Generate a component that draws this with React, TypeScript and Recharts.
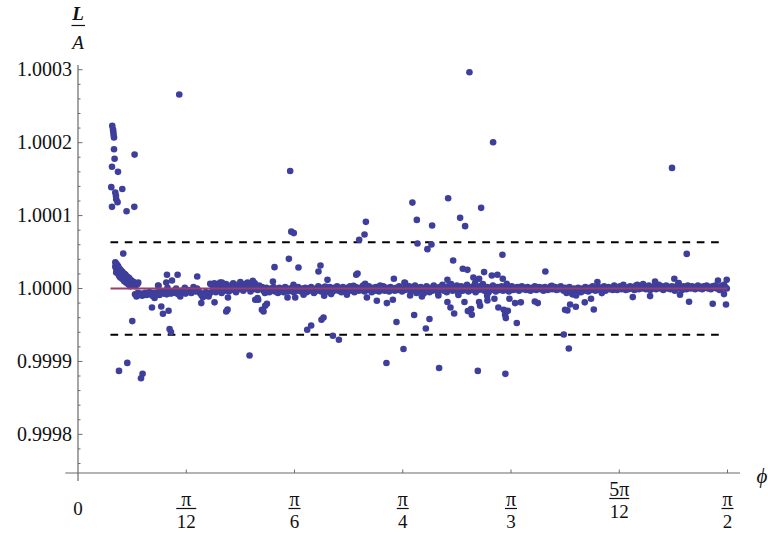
import React from 'react';
import { ScatterChart, Scatter, XAxis, YAxis, ReferenceLine } from 'recharts';

// phi in degrees, deviation of L/A from 1 in parts per million (ppm)
type Pt = [number, number];

const transientHigh: Pt[] = [
  [4.75, 223], [4.85, 218], [4.89, 215], [4.93, 211], [4.99, 207], [4.99, 191],
  [5.07, 178], [4.71, 167], [5.54, 160], [4.61, 139], [5.17, 131.5], [5.26, 127],
  [5.30, 122.5], [5.48, 118.4], [4.71, 112], [6.14, 136.5], [7.84, 183.6],
  [7.80, 112], [6.73, 106], [14.03, 266],
];

const transientLow: Pt[] = [
  [5.68, -113], [6.83, -102], [8.95, -117], [8.73, -123], [7.52, -44.7], [6.27, 48],
];

const transientWedge: Pt[] = [
  [5.17, 36], [5.17, 30], [5.30, 34], [5.30, 27], [5.30, 22], [5.44, 32], [5.44, 25],
  [5.58, 30], [5.58, 28], [5.58, 20], [5.72, 27], [5.72, 22], [5.72, 17], [5.86, 26],
  [5.86, 20], [5.86, 15], [6.00, 24], [6.00, 18], [6.14, 23], [6.14, 19], [6.14, 13],
  [6.27, 21], [6.27, 16], [6.41, 20], [6.41, 14], [6.41, 10], [6.55, 19], [6.55, 15],
  [6.69, 17], [6.69, 12], [6.69, 8], [6.83, 16], [6.83, 13], [6.97, 15], [6.97, 11],
  [6.97, 6], [7.11, 14], [7.11, 9], [7.24, 12], [7.24, 8], [7.24, 3], [7.38, 11],
  [7.38, 6], [7.52, 10], [7.52, 7], [7.66, 9], [7.66, 5], [7.80, 8], [7.80, 4],
  [7.94, 7], [7.94, 3], [8.07, 7], [8.21, 6], [8.35, 8],
];

const bandA: Pt[] = [
  [7.9, -8], [8.1, -11], [8.3, -6], [8.5, -9], [8.7, -7], [8.9, -10], [9.1, -8], [9.3, -6],
  [9.5, -9], [9.7, -7], [9.9, -5], [10.1, -8], [10.3, -10], [10.5, -6], [10.7, -8], [10.9, -7],
  [11.1, -5], [11.3, -9], [11.5, -6], [11.7, -4], [11.9, -7], [12.1, -5], [12.3, -8], [12.5, -6],
  [12.7, -4], [12.9, -7], [13.1, -5], [13.3, -3], [13.5, -6], [13.7, -4], [13.9, -8], [14.1, -5],
  [14.3, -3], [14.5, -6], [14.7, -4], [14.9, -7], [15.1, -5], [15.3, -2], [15.5, -4], [15.7, -6],
  [15.9, -3], [16.1, -1], [16.3, -4], [16.5, 0], [16.7, -3], [16.9, -6], [17.1, -9], [17.3, -12],
  [17.5, -7], [17.7, -5], [17.9, -9], [18.1, -11], [18.3, -6],
  [11.1, 4], [12.4, 1], [13.6, 0], [14.8, 1], [16.0, 2],
];

const bandB: Pt[] = [
  [18.5, 5], [18.7, -2], [18.9, 7], [19.1, -5], [19.3, 3], [19.5, -1], [19.7, 8], [19.9, -6],
  [20.1, 2], [20.3, -3], [20.5, 6], [20.7, 0], [20.9, -4], [21.1, 4], [21.3, -2], [21.5, 7],
  [21.7, 1], [21.9, -5], [22.1, 5], [22.3, -1], [22.5, 9], [22.7, 3], [22.9, -3], [23.1, 6],
  [23.3, 0], [23.5, 8], [23.7, 2], [23.9, -4], [24.1, 5], [24.3, -1], [24.5, 7], [24.7, 3],
  [24.9, -2], [25.1, 4],
];

const bandC: Pt[] = [
  [25.5, 2], [25.7, -3], [25.9, -6], [26.1, 1], [26.3, -2], [26.5, -5], [26.7, 0], [26.9, -3],
  [27.1, 2], [27.3, -4], [27.5, -1], [27.7, -6], [27.9, 1], [28.1, -3], [28.3, -1], [28.5, -5],
  [28.7, 2], [28.9, -2], [29.1, -4], [29.3, 0], [29.5, -3], [29.7, 1], [29.9, -5], [30.1, -1],
  [30.3, -3], [30.5, 2], [30.7, -2], [30.9, -4], [31.1, 0], [31.3, -3], [31.5, 1], [31.7, -5],
  [31.9, -1], [32.1, -3], [32.3, 2], [32.5, -2], [32.7, -6], [32.9, 0], [33.1, -3], [33.3, 3],
  [33.5, -1], [33.7, -4], [33.9, 1], [34.1, -2], [34.3, -5], [34.5, 0], [34.7, -3], [34.9, 2],
  [35.1, -1], [35.3, -4], [35.5, 1], [35.7, -2], [35.9, 3], [36.1, -3], [36.3, 0], [36.5, -5],
  [36.7, 2], [36.9, -1], [37.1, -4], [37.3, 1], [37.5, -2], [37.7, 3], [37.9, -3], [38.1, 0],
  [38.3, -5], [38.5, 2], [38.7, -1], [38.9, -3], [39.1, 1], [39.3, -2], [39.5, 4], [39.7, -4],
  [39.9, 0], [40.1, -2], [40.3, 3], [40.5, -1], [40.7, -5], [40.9, 1], [41.1, -3], [41.3, 2],
  [41.5, -1], [41.7, -4], [41.9, 0], [42.1, -2], [42.3, 3], [42.5, -3], [42.7, 1], [42.9, -1],
  [43.1, -4], [43.3, 2], [43.5, -2], [43.7, 0], [43.9, -3], [44.1, 1], [44.3, -2], [44.5, 3],
  [44.7, -1], [44.9, -4], [45.1, 0], [45.3, -2], [45.5, 2],
];

const bandD: Pt[] = [
  [45.7, -1], [45.9, 3], [46.1, -4], [46.3, 0], [46.5, -2], [46.7, 4], [46.9, -6], [47.1, 1],
  [47.3, -3], [47.5, 2], [47.7, -1], [47.9, -7], [48.1, 0], [48.3, 3], [48.5, -2], [48.7, -5],
  [48.9, 1], [49.1, -3], [49.3, 4], [49.5, 0], [49.7, -2], [49.9, -6], [50.1, 2], [50.3, -1],
  [50.5, 5], [50.7, -3], [50.9, 0], [51.1, -5], [51.3, 3], [51.5, -1], [51.7, 6], [51.9, -3],
  [52.1, 1], [52.3, -2], [52.5, 4], [52.7, -6], [52.9, 0], [53.1, 3], [53.3, -3], [53.5, 1],
  [53.7, -1], [53.9, 5], [54.1, -4], [54.3, 2], [54.5, -2], [54.7, 0], [54.9, 4], [55.1, -5],
  [55.3, 1], [55.5, -2], [55.7, 3], [55.9, -1], [56.1, 6], [56.3, -3], [56.5, 0], [56.7, 2],
  [56.9, -5], [57.1, 1], [57.3, -2], [57.5, 4], [57.7, -1], [57.9, -4], [58.1, 2], [58.3, 0],
  [58.5, -2], [58.7, 3], [58.9, -3], [59.1, 1], [59.3, -1], [59.5, 2], [59.7, -4], [59.9, 0],
  [60.1, 3], [60.3, -2], [60.5, 1], [60.7, -1], [60.9, 2], [61.1, -3], [61.3, 0], [61.5, 3],
  [61.7, -1], [61.9, 1], [62.1, -2], [62.3, 2], [62.5, 0], [62.7, -3], [62.9, 1], [63.1, -1],
  [63.3, 3], [63.5, -2], [63.7, 0], [63.9, 2], [64.1, -1], [64.3, 1], [64.5, -3], [64.7, 2],
  [64.9, 0], [65.1, -2], [65.3, 1], [65.5, 3], [65.7, -1], [65.9, 0], [66.1, 2], [66.3, -2],
  [66.5, 1], [66.7, -1], [66.9, 3], [67.1, 0],
];

const bandE: Pt[] = [
  [67.3, -3], [67.5, 1], [67.7, -6], [67.9, -2], [68.1, 2], [68.3, -4], [68.5, -8], [68.7, 0],
  [68.9, -3], [69.1, -6], [69.3, 1], [69.5, -2], [69.7, -5], [69.9, 0], [70.1, -3], [70.3, 2],
  [70.5, -1], [70.7, -4], [70.9, 1], [71.1, -2], [71.3, 3], [71.5, -1], [71.7, -3], [71.9, 0],
  [72.1, 2], [72.3, -2], [72.5, 1], [72.7, -1], [72.9, 3], [73.1, -3], [73.3, 0], [73.5, 2],
  [73.7, -1], [73.9, 1], [74.1, -2], [74.3, 4], [74.5, 0], [74.7, -2], [74.9, 1], [75.1, 3],
  [75.3, -1], [75.5, 0], [75.7, 2], [75.9, -2], [76.1, 1], [76.3, -1], [76.5, 3], [76.7, 0],
  [76.9, 2], [77.1, -2], [77.3, 1], [77.5, 5], [77.7, -1], [77.9, 3], [78.1, 0], [78.3, 6],
  [78.5, 2], [78.7, -1], [78.9, 1], [79.1, 4], [79.3, -2], [79.5, 2], [79.7, 0], [79.9, 3],
  [80.1, -1], [80.3, 2], [80.5, 5], [80.7, 0], [80.9, 3], [81.1, -2], [81.3, 1], [81.5, 4],
  [81.7, 0], [81.9, 2], [82.1, -1], [82.3, 3], [82.5, 1], [82.7, -3], [82.9, 2], [83.1, 5],
  [83.3, 0], [83.5, 2], [83.7, -2], [83.9, 3], [84.1, 1], [84.3, -1], [84.5, 4], [84.7, 2],
  [84.9, 0], [85.1, 3], [85.3, 1], [85.5, -1], [85.7, 2], [85.9, 4], [86.1, 0], [86.3, 2],
  [86.5, -1], [86.7, 3], [86.9, 1], [87.1, 4], [87.3, 0], [87.5, 2], [87.7, -1], [87.9, 3],
  [88.1, 1], [88.3, 4], [88.5, 0], [88.7, 2], [88.9, -2], [89.1, 3], [89.3, 1], [89.5, 5],
  [89.7, 2], [89.9, 0],
];

const nearOutliers: Pt[] = [
  [12.33, 18.8], [13.80, 18.8], [13.02, 11], [12.23, 8.2], [16.52, 16.4], [11.16, 3.7],
  [18.32, 6.4], [19.94, 8.2], [10.25, -26], [11.54, -24.7], [12.55, -30.5], [11.77, -34.7],
  [12.69, -55.6], [12.88, -59.7], [20.78, -12.3], [20.72, -29], [20.54, -31.5], [10.61, -13],
  [14.17, -11], [17.08, -20], [18.92, -19], [24.56, -15.5],
  [38.96, 66.7], [29.22, 40.7], [27.23, 29.3], [30.55, 28.8], [33.60, 31.5], [33.32, 23.3],
  [38.73, 20.5], [38.55, 18.8], [34.57, 11.9], [43.77, 13.3], [27.01, 9.6], [24.24, 10.5],
  [45.24, 8.2], [24.97, -15.5], [24.88, -13], [26.18, -21], [25.94, -23.7], [25.48, -29.2],
  [25.71, -31.5], [29.03, -12.3], [30.10, -12.3], [31.25, -8.6], [34.11, -10], [35.08, -7.7],
  [37.26, -8.6], [40.03, -12.3], [41.41, -16.8], [42.80, -20], [43.63, -15.5], [33.74, -42.9],
  [34.02, -39.7], [32.31, -50.7], [31.76, -56.6], [35.32, -64.8], [44.13, -46],
  [29.86, 5], [34.25, 2.7], [38.17, 3.7], [39.79, 6.4], [41.87, 4.1],
  [47.04, 61.7], [48.42, 54], [48.98, 60.3], [58.81, 46.2], [51.98, 38.4], [53.32, 27],
  [53.96, 25.6], [56.27, 22.5], [64.76, 23.3], [51.19, 11.9], [54.79, 15], [55.58, 13.3],
  [57.34, 17.8], [58.12, 18.8], [58.86, 13.3], [55.03, 7.4], [59.42, 6.4], [45.33, 7.4],
  [51.19, -18.6], [51.61, -26], [52.12, -34.2], [53.55, -18.6], [54.02, -31], [54.47, -28.2],
  [54.57, -36], [55.58, -18.6], [55.72, -23.7], [56.73, -16.4], [56.69, -10], [57.70, -14.1],
  [58.25, -26], [59.00, -29.2], [59.18, -36], [59.28, -40.6], [59.56, -30.5], [59.78, -14.1],
  [60.57, -20], [61.36, -19], [60.80, -47.4], [63.30, -17.8], [63.71, -20], [46.58, -36.4],
  [48.70, -41.9], [48.20, -54.8], [46.02, -9.6], [47.65, -11], [49.94, -9.6], [52.71, -9],
  [67.31, -63], [67.49, -29.2], [65.65, 3.7],
  [84.35, 47.5], [82.63, 13.3], [83.24, 7.4], [79.96, 9.6], [71.97, 8.8], [88.68, 11],
  [89.89, 11.9], [75.57, 5], [77.33, 4.1], [68.19, -22], [67.81, -30], [68.98, -25],
  [70.22, -19], [71.09, -14.1], [71.47, -28.8], [69.02, -9.6], [72.58, -6.3], [76.87, -11.8],
  [79.27, -10.4], [83.42, -8.6], [84.67, -18.2], [87.95, -21], [89.79, -22], [89.51, -7.7],
];

const farOutliers: Pt[] = [
  [23.77, -91.8], [29.55, 78], [29.9, 76], [39.70, 74], [39.89, 91.4], [29.40, 161.2],
  [36.15, -70.3], [45.10, -83], [42.74, -102.2],
  [54.24, 296.5], [57.52, 200.6], [46.34, 117.8], [51.29, 123.8], [55.86, 110.6],
  [46.95, 94.1], [52.95, 96.9], [49.07, 86.3], [53.64, 85.5],
  [50.04, -109], [55.40, -113], [59.22, -117], [68.01, -82.2], [82.31, 165.4],
];

// theoretical value L/A = 1, drawn across the sampled range
const unityPhi = [4.5, 90];
const unityDev = [0, 0];

const xTicks = [0, 15, 30, 45, 60, 75, 90];
const xTickNum = ['0', 'π', 'π', 'π', 'π', '5π', 'π'];
const xTickDen = ['', '12', '6', '4', '3', '12', '2'];
const yTicks = [-240, -220, -200, -180, -160, -140, -120, -100, -80, -60, -40, -20, 0,
  20, 40, 60, 80, 100, 120, 140, 160, 180, 200, 220, 240, 260, 280, 300];

const bandLimit = 63.5;

const POINT = '#3e3e9c';
const AXIS = '#6a6a6a';
const FONT = '"Liberation Serif", "Times New Roman", serif';

const points = [
  ...transientHigh, ...transientLow, ...transientWedge,
  ...bandA, ...bandB, ...bandC, ...bandD, ...bandE,
  ...nearOutliers, ...farOutliers,
].map(([phi, dev]) => ({ phi, dev }));

const unity = unityPhi.map((phi, i) => ({ phi, dev: unityDev[i] }));

const YTick = ({ x, y, payload }: any) => {
  const v = payload.value;
  const major = v % 100 === 0;
  return (
    <g>
      <line x1={x} x2={x + (major ? 4.5 : 2.5)} y1={y} y2={y} stroke={AXIS} strokeWidth={1} />
      {major && (
        <text x={x - 6} y={y + 6.5} textAnchor="end" fontFamily={FONT} fontSize={20} fill="#111">
          {(1 + v / 1e6).toFixed(4)}
        </text>
      )}
    </g>
  );
};

const XTick = ({ x, y, payload }: any) => {
  const i = xTicks.indexOf(payload.value);
  const num = xTickNum[i];
  const den = xTickDen[i];
  if (!den) {
    return (
      <text x={x} y={y + 42} textAnchor="middle" fontFamily={FONT} fontSize={19} fill="#111">{num}</text>
    );
  }
  // 5π/12 sits higher than the rest
  const shift = num.length > 1 ? -10 : 0;
  const barW = Math.max(num.length, den.length) > 1 ? 20 : 12;
  return (
    <g>
      <line x1={x} x2={x} y1={y} y2={y - 3.5} stroke={AXIS} strokeWidth={1} />
      <text x={x} y={y + 33 + shift} textAnchor="middle" fontFamily={FONT} fontSize={20} fill="#111">{num}</text>
      <line x1={x - barW / 2} x2={x + barW / 2} y1={y + 35.5 + shift} y2={y + 35.5 + shift} stroke="#111" strokeWidth={1.2} />
      <text x={x} y={y + 55 + shift} textAnchor="middle" fontFamily={FONT} fontSize={19} fill="#111">{den}</text>
    </g>
  );
};

const Dot = (props: any) => <circle cx={props.cx} cy={props.cy} r={3.3} fill={POINT} />;
const NoDot = () => <g />;

export default function App() {
  return (
    <div style={{ position: 'absolute', left: 0, top: 0, width: 768, height: 535, background: '#fff' }}>
      <ScatterChart width={768} height={535} margin={{ top: 65, right: 28, bottom: 0, left: 0 }}>
        <XAxis
          type="number"
          dataKey="phi"
          domain={[0, 91.73]}
          allowDataOverflow
          ticks={xTicks}
          interval={0}
          axisLine={false}
          tickLine={false}
          tickSize={0}
          tickMargin={0}
          height={62}
          tick={<XTick />}
        />
        <YAxis
          type="number"
          dataKey="dev"
          domain={[-253, 306.5]}
          allowDataOverflow
          ticks={yTicks}
          interval={0}
          axisLine={false}
          tickLine={false}
          tickSize={0}
          tickMargin={0}
          width={78}
          tick={<YTick />}
        />
        <ReferenceLine segment={[{ x: -1.76, y: -253 }, { x: 91.73, y: -253 }]} stroke={AXIS} strokeWidth={1.2} ifOverflow="visible" />
        <ReferenceLine segment={[{ x: 0, y: -264 }, { x: 0, y: 306.5 }]} stroke={AXIS} strokeWidth={1.2} ifOverflow="visible" />
        <ReferenceLine segment={[{ x: 4.5, y: bandLimit }, { x: 89, y: bandLimit }]} stroke="#000" strokeWidth={2} strokeDasharray="7.7 6.6" ifOverflow="visible" />
        <ReferenceLine segment={[{ x: 4.5, y: -bandLimit }, { x: 89, y: -bandLimit }]} stroke="#000" strokeWidth={2} strokeDasharray="7.7 6.6" ifOverflow="visible" />
        <Scatter data={points} shape={<Dot />} isAnimationActive={false} />
        <Scatter
          data={unity}
          shape={<NoDot />}
          line={{ stroke: '#993d6b', strokeWidth: 2 }}
          isAnimationActive={false}
        />
      </ScatterChart>
      <svg width={768} height={535} style={{ position: 'absolute', left: 0, top: 0, pointerEvents: 'none' }}>
        <text x={78} y={20} textAnchor="middle" fontFamily={FONT} fontSize={19} fontStyle="italic" fontWeight="bold" fill="#111">L</text>
        <line x1={71.5} x2={85} y1={25.5} y2={25.5} stroke="#111" strokeWidth={1.2} />
        <text x={78} y={49} textAnchor="middle" fontFamily={FONT} fontSize={19} fontStyle="italic" fill="#111">A</text>
        <text x={762} y={483} textAnchor="middle" fontFamily={FONT} fontSize={21} fontStyle="italic" fill="#111">ϕ</text>
      </svg>
    </div>
  );
}
